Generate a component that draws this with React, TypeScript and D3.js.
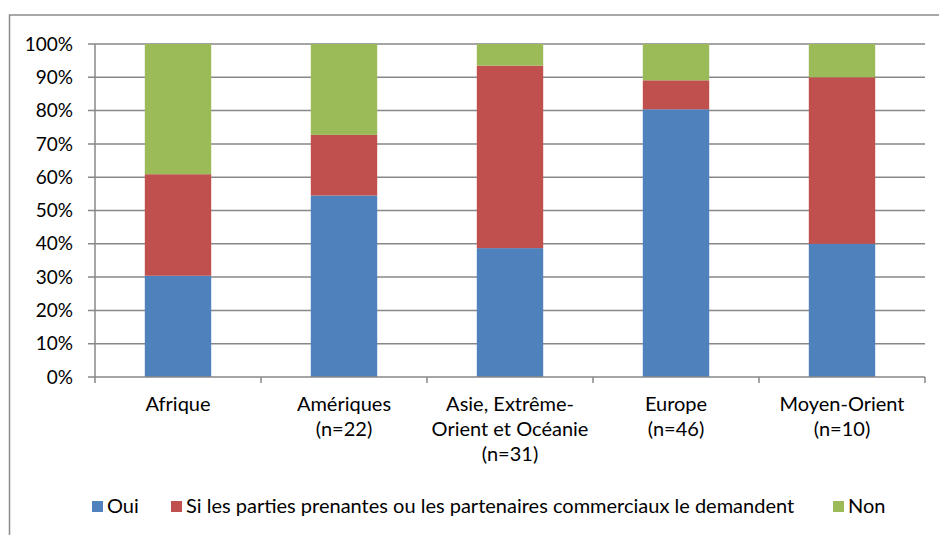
import React, { useEffect, useRef } from "react";
import * as d3 from "d3";

const categories: string[][] = [
  ["Afrique"],
  ["Amériques", "(n=22)"],
  ["Asie, Extrême-", "Orient et Océanie", "(n=31)"],
  ["Europe", "(n=46)"],
  ["Moyen-Orient", "(n=10)"],
];
const seriesNames = [
  "Oui",
  "Si les parties prenantes ou les partenaires commerciaux le demandent",
  "Non",
];
const oui = [30.4, 54.5, 38.7, 80.4, 40];
const siDemande = [30.5, 18.2, 54.8, 8.7, 50];
const non = [39.1, 27.3, 6.5, 10.9, 10];
const yTicks = [0, 10, 20, 30, 40, 50, 60, 70, 80, 90, 100];
const colors = ["#4F81BD", "#C0504D", "#9BBB59"];

const W = 939;
const H = 535;
const FONT = "Lato, 'Open Sans', sans-serif";

export default function App() {
  const ref = useRef<SVGSVGElement | null>(null);
  useEffect(() => {
    const svg = d3.select(ref.current);
    svg.selectAll("*").remove();

    const left = 95, right = 925, top = 44, bottom = 377;
    const x = d3.scaleBand<number>().domain(d3.range(categories.length)).range([left, right]).paddingInner(0.6).paddingOuter(0.3);
    const y = d3.scaleLinear().domain([0, 100]).range([bottom, top]);

    // outer frame
    svg.append("path").attr("d", `M9.5,${H + 5} L9.5,15 L${W + 5},15`).attr("fill", "none").attr("stroke", "#8c8c8c").attr("stroke-width", 1.5);

    // gridlines
    svg.append("g").selectAll("line").data(yTicks.filter(t => t > 0)).join("line")
      .attr("x1", left - 7).attr("x2", right)
      .attr("y1", d => y(d)).attr("y2", d => y(d))
      .attr("stroke", "#878787").attr("stroke-width", 1.5);

    // y labels
    svg.append("g").selectAll("text").data(yTicks).join("text")
      .attr("x", 73).attr("y", d => y(d)).attr("dy", "0.35em")
      .attr("text-anchor", "end").attr("font-family", FONT).attr("font-size", 19).attr("fill", "#000")
      .text(d => `${d}%`);

    const data = categories.map((c, i) => ({ i, v: [oui[i], siDemande[i], non[i]] }));
    const stack = d3.stack<any>().keys(["0", "1", "2"]).value((d, k) => d.v[+k]);
    const stacked = stack(data);
    stacked.forEach((layer, si) => {
      svg.append("g").selectAll("rect").data(layer).join("rect")
        .attr("x", d => x((d.data as any).i)!)
        .attr("width", x.bandwidth())
        .attr("y", d => y(d[1]))
        .attr("height", d => y(d[0]) - y(d[1]))
        .attr("fill", colors[si]);
    });

    // y axis
    svg.append("line").attr("x1", left).attr("x2", left).attr("y1", top).attr("y2", bottom).attr("stroke", "#878787").attr("stroke-width", 1.5);
    svg.append("line").attr("x1", left - 7).attr("x2", left).attr("y1", y(0)).attr("y2", y(0)).attr("stroke", "#878787").attr("stroke-width", 1.5);
    // x axis
    svg.append("line").attr("x1", left).attr("x2", right).attr("y1", bottom).attr("y2", bottom).attr("stroke", "#878787").attr("stroke-width", 1.5);
    const step = x.step();
    svg.append("g").selectAll("line").data(d3.range(categories.length + 1)).join("line")
      .attr("x1", d => left + d * step).attr("x2", d => left + d * step)
      .attr("y1", bottom).attr("y2", bottom + 6)
      .attr("stroke", "#878787").attr("stroke-width", 1.5);

    // x labels
    categories.forEach((lines, i) => {
      const cx = x(i)! + x.bandwidth() / 2;
      const t = svg.append("text").attr("text-anchor", "middle").attr("font-family", FONT).attr("font-size", 20).attr("fill", "#000");
      lines.forEach((l, j) => {
        t.append("tspan").attr("x", cx).attr("y", 411 + j * 25).text(l);
      });
    });

    // legend
    const legendX = [92, 171, 833];
    seriesNames.forEach((name, i) => {
      svg.append("rect").attr("x", legendX[i]).attr("y", 501).attr("width", 11).attr("height", 11).attr("fill", colors[i]);
      svg.append("text").attr("x", legendX[i] + 15).attr("y", 513)
        .attr("font-family", FONT).attr("font-size", 20).attr("fill", "#000").text(name);
    });
  }, []);
  return (
    <svg ref={ref} width={W} height={H} style={{ position: "absolute", left: 0, top: 0, background: "#fff" }} />
  );
}
